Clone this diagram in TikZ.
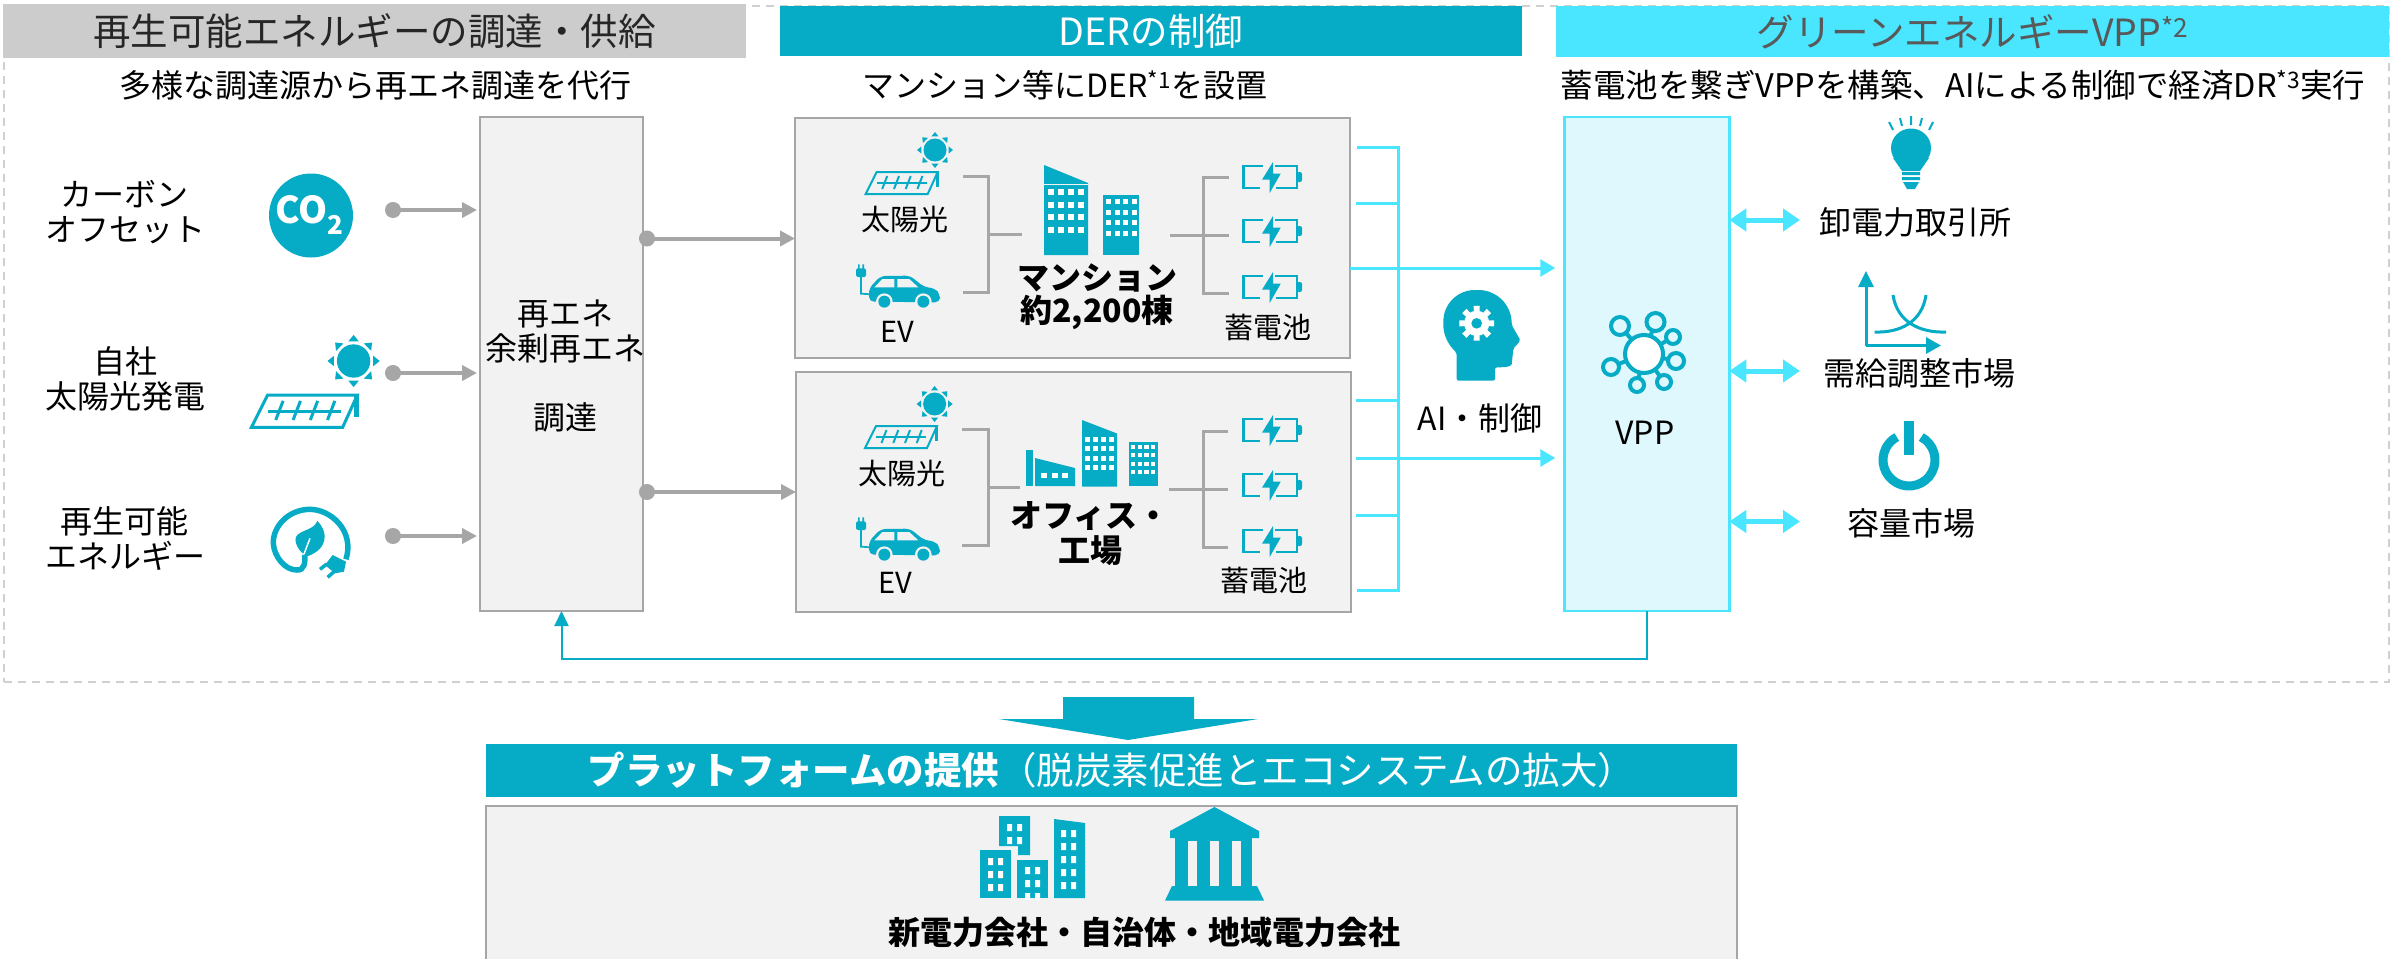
\documentclass[tikz,border=0pt]{standalone}
\usepackage{fontspec}
\setmainfont{Noto Sans CJK JP}
\usetikzlibrary{arrows.meta}

\definecolor{derblue}{HTML}{06ABC6}
\definecolor{vppcyan}{HTML}{4AE5FF}
\definecolor{vpppale}{HTML}{DFF8FD}
\definecolor{linegray}{HTML}{A6A6A6}
\definecolor{boxgray}{HTML}{F2F2F2}
\definecolor{framegray}{HTML}{D0D0D0}
\definecolor{headgray}{HTML}{CCCCCC}

\tikzset{
	sizebody/.style = {font = \fontsize{32}{35}\selectfont},
	sizesmall/.style = {font = \fontsize{29}{32}\selectfont},
	bar/.style = {inner sep = 0, outer sep = 0, minimum height = 51pt, font = \fontsize{37.5}{40}\selectfont},
	panelbox/.style = {draw = linegray, fill = boxgray, line width = 2.5pt, inner sep = 0, outer sep = 0},
	plain/.style = {sizebody, align = center, inner sep = 0},
	feed/.style = {draw = linegray, line width = 4pt, {Circle[length = 16pt]}-{Triangle[length = 15pt, width = 15pt]}},
	tree/.style = {draw = linegray, line width = 3pt},
	control/.style = {draw = vppcyan, line width = 3pt},
	market/.style = {draw = vppcyan, line width = 5pt, {Triangle[length = 17pt, width = 22pt]}-{Triangle[length = 17pt, width = 22pt]}},
	sunicon/.pic = {
		\fill [derblue] (0, 0) circle [radius = 11.5];
		\foreach \a in {0, 45, ..., 315}
			\fill [derblue] (\a : 18) -- ({\a + 15} : 14) -- ({\a - 15} : 14) -- cycle;
	},
	solaricon/.pic = {
		\draw [derblue] (11, 0) -- (72, 0) -- (62, 22) -- (0, 22) -- cycle;
		\fill [derblue] (70, -1) rectangle (73, 15);
		\draw [derblue] (11, 11) -- (61, 11);
		\foreach \x in {21.5, 33.3, 45, 56.7}
			\draw [derblue] (\x, 4) -- ({\x - 5}, 17);
	},
	caricon/.pic = {
		\fill [derblue, rounded corners = 1.5] (18, 40) rectangle (48, 66);
		\fill [derblue] (24, 28) rectangle (29, 42) (37, 28) rectangle (42, 42);
		\draw [derblue, line width = 1.7pt] (33, 64) -- (33, 116) -- (62, 118);
		\fill [derblue, rounded corners = 5] (57, 140) -- (57, 100) -- (92, 63) -- (180, 62) -- (222, 96) -- (255, 100) -- (270, 118) -- (270, 142) -- cycle;
		\fill [boxgray] (73, 97) -- (97, 72) -- (133, 72) -- (133, 97) -- cycle;
		\fill [boxgray] (142, 72) -- (178, 72) -- (205, 97) -- (142, 97) -- cycle;
		\foreach \x in {103, 220} {
			\fill [boxgray] (\x, 140) circle [radius = 25];
			\fill [derblue] (\x, 140) circle [radius = 18];
		}
	},
	cellicon/.pic = {
		\draw [derblue, line width = 2.7pt] (60, -33) -- (2, -33) -- (2, 33) -- (52, 33);
		\draw [derblue, line width = 2.7pt] (95, -33) -- (162, -33) -- (162, 33) -- (100, 33);
		\fill [derblue, rounded corners = 2] (162, -15) rectangle (177, 15);
		\fill [derblue] (90, -45) -- (57, 8) -- (80, 8) -- (80, 48) -- (113, -10) -- (90, -10) -- cycle;
	},
	mansionicon/.pic = {
		\fill [derblue] (0, 0) -- (44, 18) -- (44, 90) -- (0, 90) -- cycle;
		\draw [boxgray, line width = 0.6pt] (0, 19) -- (44, 19);
		\foreach \i in {0, ..., 3}
			\foreach \j in {0, ..., 3}
				\fill [white] ({4 + \i * 10}, {24 + \j * 12.5}) rectangle ++(6.3, 6.3);
		\fill [derblue] (59, 30) rectangle (95, 90);
		\foreach \i in {0, ..., 3}
			\foreach \j in {0, ..., 3}
				\fill [white] ({62 + \i * 8.5}, {34 + \j * 10.7}) rectangle ++(5.2, 5);
	},
	officeicon/.pic = {
		\fill [derblue] (0, 30) rectangle (7, 66);
		\fill [derblue] (9, 38) -- (49, 48) -- (49, 66) -- (9, 66) -- cycle;
		\foreach \i in {0, 1, 2}
			\fill [white] ({15 + \i * 10.5}, 53) rectangle ++(6, 5);
		\fill [derblue] (56, 0) -- (91, 13.5) -- (91, 66.5) -- (56, 66.5) -- cycle;
		\foreach \i in {0, ..., 3}
			\foreach \j in {0, ..., 3}
				\fill [white] ({59 + \i * 8}, {17 + \j * 9.4}) rectangle ++(5, 4.8);
		\fill [derblue] (102.5, 21.5) rectangle (132, 66);
		\foreach \i in {0, ..., 3}
			\foreach \j in {0, ..., 3}
				\fill [white] ({105 + \i * 6.7}, {24.5 + \j * 8.5}) rectangle ++(4.3, 4);
	},
}

\begin{document}
\begin{tikzpicture}[x = 1pt, y = -1pt]

	\useasboundingbox (0, 0) rectangle (2403, 958);

	% Dashed frame round the three columns

	\node (frame) [draw = framegray, line width = 2pt, dash pattern = on 8pt off 6pt, minimum width = 2385pt, minimum height = 676pt, inner sep = 0] at (1196.5, 344) {};

	% Column headings

	\node (supplyhead) [bar, fill = headgray, minimum width = 743pt, minimum height = 54pt, text = black!85] at (374.5, 31) {再生可能エネルギーの調達・供給};
	\node (derhead) [bar, fill = derblue, minimum width = 742pt, minimum height = 50pt, text = white] at (1151, 31) {DERの制御};
	\node (vpphead) [bar, fill = vppcyan, minimum width = 833pt, text = black!65] at (1972.5, 31.5) {グリーンエネルギーVPP\textsuperscript{*2}};

	\node (supplysub) [plain, font = \fontsize{32}{36}\selectfont] at (375, 85) {多様な調達源から再エネ調達を代行};
	\node (dersub) [plain, font = \fontsize{32}{36}\selectfont] at (1065, 85) {マンション等にDER\textsuperscript{*1}を設置};
	\node (vppsub) [plain, font = \fontsize{32.5}{36}\selectfont] at (1963, 85) {蓄電池を繋ぎVPPを構築、AIによる制御で経済DR\textsuperscript{*3}実行};

	% Sources on the left

	\node (carbon) [plain] at (125, 212) {カーボン\\オフセット};
	\node (ownsolar) [plain] at (125, 379) {自社\\太陽光発電};
	\node (renewable) [plain] at (125, 539) {再生可能\\エネルギー};

	\fill [derblue] (311, 215.5) circle [radius = 42];
	\node (co2) [inner sep = 0, text = white, font = \fontsize{37}{37}\selectfont\bfseries] at (310, 215) {CO\textsubscript{2}};

	\pic [scale = 1.45] at (353.6, 361) {sunicon};
	\pic [scale = 1.47, line width = 3pt] at (251.5, 395) {solaricon};

	% Leaf inside the cable

	\begin{scope}[shift = {(260, 490)}, scale = 1 / 3]

		\draw [derblue, line width = 5.5pt] (258, 208) .. controls (285, 120) and (210, 58) .. (150, 58) .. controls (85, 58) and (38, 110) .. (40, 160) .. controls (42, 200) and (75, 240) .. (110, 240) .. controls (135, 242) and (135, 215) .. (135, 195);
		\fill [derblue] (172, 93) .. controls (205, 125) and (205, 175) .. (145, 198) .. controls (120, 195) and (95, 150) .. (112, 135) .. controls (130, 118) and (160, 120) .. (172, 93) -- cycle;
		\draw [white, line width = 1.5pt] (150, 145) -- (132, 192);
		\fill [derblue] (218, 195) -- (258, 215) -- (252, 245) -- (225, 250) -- (195, 225) -- cycle;
		\draw [derblue, line width = 3.5pt] (200, 222) -- (180, 238) (222, 245) -- (203, 262);

	\end{scope}

	% Procurement box

	\node (supplybox) [panelbox, minimum width = 163pt, minimum height = 494pt] at (561.5, 364) {};
	\node (supplytext) [plain] at (565, 366.5) {再エネ\\余剰再エネ\\[34pt]調達};

	\coordinate (carbonout) at (385, 210);
	\coordinate (solarout) at (385, 373);
	\coordinate (greenout) at (385, 536);

	\begin{scope}[shorten > = 3pt]

		\draw [feed] (carbonout) -- (carbonout -| supplybox.west);
		\draw [feed] (solarout) -- (solarout -| supplybox.west);
		\draw [feed] (greenout) -- (greenout -| supplybox.west);

	\end{scope}

	% Apartment block group

	\node (mansionbox) [panelbox, minimum width = 555pt, minimum height = 240pt] at (1072.5, 238) {};

	\coordinate (mansionfeed) at (639, 238.5);
	\draw [feed] (mansionfeed) -- (mansionfeed -| mansionbox.west);

	\pic at (935, 150) {sunicon};
	\pic [line width = 2pt] at (865.7, 172) {solaricon};
	\pic [scale = 1 / 3] at (850, 255) {caricon};
	\pic at (1044, 165) {mansionicon};

	\node (solarone) [plain, sizesmall] at (905, 220) {太陽光};
	\node (evone) [plain, sizesmall] at (897, 332) {EV};
	\node (mansion) [plain, font = \fontsize{32}{33.5}\selectfont\bfseries] at (1097, 296.5) {マンション\\約2,200棟};
	\node (cellone) [plain, sizesmall] at (1268, 327) {蓄電池};

	\draw [tree] (963, 176) -- (988, 176) -- (988, 292) -- (963, 292);
	\draw [tree] (988, 234) -- (1022, 234);
	\draw [tree] (1229, 177) -- (1203, 177) -- (1203, 293) -- (1229, 293);
	\draw [tree] (1170, 235) -- (1229, 235);

	\foreach \y in {177, 231, 287}
		\pic [scale = 1 / 3] at (1243, \y) {cellicon};

	% Office and factory group

	\node (officebox) [panelbox, minimum width = 555pt, minimum height = 240pt] at (1073.5, 492) {};

	\coordinate (officefeed) at (639, 492);
	\draw [feed] (officefeed) -- (officefeed -| officebox.west);

	\pic at (934.6, 404) {sunicon};
	\pic [line width = 2pt] at (865, 426) {solaricon};
	\pic [scale = 1 / 3] at (850, 508) {caricon};
	\pic at (1026, 420) {officeicon};

	\node (solartwo) [plain, sizesmall] at (902, 474) {太陽光};
	\node (evtwo) [plain, sizesmall] at (895, 583) {EV};
	\node (office) [plain, font = \fontsize{32}{35}\selectfont\bfseries] at (1090, 534) {オフィス・\\工場};
	\node (celltwo) [plain, sizesmall] at (1264, 580) {蓄電池};

	\draw [tree] (962, 429) -- (988, 429) -- (988, 545) -- (962, 545);
	\draw [tree] (988, 487) -- (1020, 487);
	\draw [tree] (1228, 431) -- (1203, 431) -- (1203, 547) -- (1228, 547);
	\draw [tree] (1169, 489) -- (1228, 489);

	\foreach \y in {430, 485, 541}
		\pic [scale = 1 / 3] at (1243, \y) {cellicon};

	% VPP box and its network

	\node (vppbox) [draw = vppcyan, fill = vpppale, line width = 2.5pt, inner sep = 0, outer sep = 0, minimum width = 165pt, minimum height = 494pt] at (1646.75, 364) {};
	\node (vpp) [plain] at (1645, 433) {VPP};

	\foreach \x / \y / \r in {1620 / 326 / 9, 1655.5 / 322 / 9, 1673 / 337 / 7, 1676 / 361 / 8, 1664 / 382 / 7, 1637 / 385 / 7, 1611 / 367 / 8} {
		\draw [derblue, line width = 4pt] (1644, 354) -- (\x, \y);
		\draw [derblue, line width = 4pt, fill = vpppale] (\x, \y) circle [radius = \r];
	}
	\draw [derblue, line width = 4pt, fill = white] (1644, 354) circle [radius = 19];

	% Control lines into the VPP box

	\coordinate (ctrlup) at (1350, 268);
	\coordinate (ctrldown) at (1356, 458);
	\coordinate (bustop) at (1357, 147);
	\coordinate (busend) at (1357, 590);

	\draw [control] (bustop) -- (1398, 147) -- (1398, 590) -- (busend);
	\foreach \y in {203, 400, 515}
		\draw [control] (1356, \y) -- (1398, \y);

	\begin{scope}[shorten > = 9pt]

		\draw [control, -{Triangle[length = 15pt, width = 17pt]}] (ctrlup) -- (ctrlup -| vppbox.west);
		\draw [control, -{Triangle[length = 15pt, width = 17pt]}] (ctrldown) -- (ctrldown -| vppbox.west);

	\end{scope}

	% Head with a gear

	\begin{scope}[shift = {(1430, 280)}, scale = 1 / 3]

		\fill [derblue, rounded corners = 2pt] (80, 302) -- (80, 218) .. controls (55, 195) and (40, 165) .. (40, 130) .. controls (40, 70) and (85, 30) .. (140, 30) .. controls (200, 30) and (245, 75) .. (245, 135) -- (272, 182) -- (250, 205) -- (246, 245) .. controls (245, 258) and (235, 262) .. (195, 262) -- (195, 302) -- cycle;
		\fill [white] (140, 130) circle [radius = 38];
		\foreach \a in {0, 45, ..., 315}
			\fill [white] ([shift = {(140, 130)}] {\a - 14} : 34) -- ([shift = {(140, 130)}] {\a - 10} : 53) -- ([shift = {(140, 130)}] {\a + 10} : 53) -- ([shift = {(140, 130)}] {\a + 14} : 34) -- cycle;
		\fill [derblue] (140, 130) circle [radius = 16];

	\end{scope}

	\node (aicontrol) [plain] at (1480, 418.5) {AI・制御};

	% Markets on the right

	\fill [derblue] (1911, 148) ellipse [x radius = 20, y radius = 19.5];
	\fill [derblue] (1893, 158) -- (1929, 158) -- (1920, 171) -- (1902, 171) -- cycle;
	\fill [derblue] (1902, 172) rectangle (1920, 175) (1902, 177) rectangle (1920, 180);
	\fill [derblue] (1903, 182) -- (1919, 182) -- (1915, 189) -- (1907, 189) -- cycle;
	\draw [derblue, line width = 2pt] (1889, 122) -- (1893, 130) (1900, 118) -- (1902, 126) (1911, 116) -- (1911, 125) (1922, 118) -- (1920, 126) (1933, 122) -- (1929, 130);

	\draw [derblue, line width = 3pt, -{Triangle[length = 16pt, width = 15pt]}] (1866, 345.5) -- (1866, 271);
	\draw [derblue, line width = 3pt, -{Triangle[length = 15pt, width = 16pt]}] (1866, 345.5) -- (1941, 345.5);
	\draw [derblue, line width = 3pt] (1893, 295) .. controls (1897, 322) and (1920, 333) .. (1946, 332);
	\draw [derblue, line width = 3pt] (1926, 295) .. controls (1922, 322) and (1900, 333) .. (1874.5, 332);

	\draw [derblue, line width = 9pt] (1909, 460) ++ (-62 : 26) arc [start angle = -62, end angle = 242, radius = 26];
	\fill [derblue] (1904, 421) rectangle (1914, 455);

	\node (spot) [plain, font = \fontsize{32}{36}\selectfont] at (1915, 222) {卸電力取引所};
	\node (balance) [plain, font = \fontsize{32}{36}\selectfont] at (1919, 373) {需給調整市場};
	\node (capacity) [plain, font = \fontsize{32}{36}\selectfont] at (1911, 523.5) {容量市場};

	\coordinate (spotin) at (1800, 220);
	\coordinate (balancein) at (1800, 371);
	\coordinate (capacityin) at (1800, 521.5);

	\draw [market] (spotin -| vppbox.east) -- (spotin);
	\draw [market] (balancein -| vppbox.east) -- (balancein);
	\draw [market] (capacityin -| vppbox.east) -- (capacityin);

	% Feedback from the VPP box to procurement

	\draw [derblue, line width = 2pt, -{Triangle[length = 15pt, width = 14pt]}] (vppbox.south) -- ++ (0, 48) -| (supplybox.south);

	% Platform below the frame

	\fill [derblue] (1063, 697) -- (1194, 697) -- (1194, 719) -- (1258, 719) -- (1128, 740) -- (999, 719) -- (1063, 719) -- cycle;

	\node (platform) [inner sep = 0, outer sep = 0, fill = derblue, minimum width = 1251pt, minimum height = 53pt, text = white, font = \fontsize{37.5}{40}\selectfont] at (1111.5, 770.5) {\textbf{プラットフォームの提供}（脱炭素促進とエコシステムの拡大）};

	\filldraw [draw = linegray, fill = boxgray, line width = 2.5pt] (486, 960) -- (486, 806) -- (1737, 806) -- (1737, 960);

	% Town buildings

	\fill [derblue] (980, 850) rectangle (1011, 898);
	\fill [derblue] (1017, 860) rectangle (1048, 898);
	\fill [derblue] (999, 816) rectangle (1030, 846) (1018, 846) rectangle (1030, 855);
	\fill [derblue] (1054, 819) -- (1085, 823) -- (1085, 898) -- (1054, 898) -- cycle;

	\foreach \x / \y / \n in {988 / 858 / 2, 1025 / 867 / 2, 1007 / 824 / 1, 1061 / 830 / 4}
		\foreach \j in {0, ..., \n}
			\fill [white] (\x, {\y + \j * 13}) rectangle ++(5, 7) ({\x + 10}, {\y + \j * 13}) rectangle ++(5, 7);

	% Institution with columns

	\fill [derblue] (1214.5, 807) -- (1259, 831) -- (1259, 838) -- (1170, 838) -- (1170, 831) -- cycle;
	\fill [derblue] (1175, 838) rectangle (1252, 886);
	\foreach \x in {1188, 1210, 1232}
		\fill [boxgray] (\x, 841) rectangle ++ (9, 45);
	\fill [derblue] (1172, 886) -- (1257, 886) -- (1264, 900.5) -- (1165, 900.5) -- cycle;

	\node (operators) [plain, font = \fontsize{32}{36}\selectfont\bfseries] at (1144, 932) {新電力会社・自治体・地域電力会社};

\end{tikzpicture}
\end{document}
